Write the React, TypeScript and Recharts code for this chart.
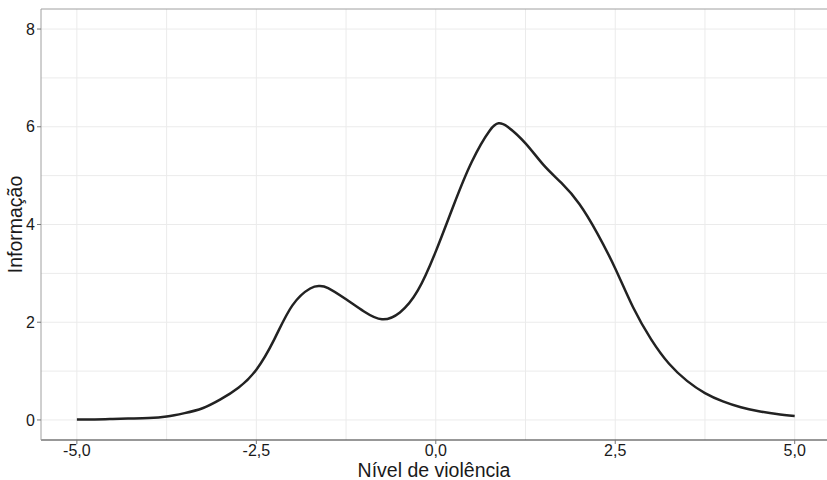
import { LineChart, Line, XAxis, YAxis, CartesianGrid, ReferenceLine } from 'recharts'

const nivel = [
  -5, -4.75, -4.5, -4.25, -4, -3.75, -3.5, -3.25, -3, -2.75, -2.5, -2.25, -2, -1.75,
  -1.625, -1.5, -1.25, -1, -0.75, -0.5, -0.25, 0, 0.25, 0.5, 0.75, 0.875, 1, 1.25,
  1.5, 1.75, 2, 2.25, 2.5, 2.75, 3, 3.25, 3.5, 3.75, 4, 4.25, 4.5, 4.75, 5,
]
const informacao = [
  0.01, 0.01, 0.02, 0.03, 0.04, 0.07, 0.14, 0.24, 0.42, 0.66, 1.03, 1.65, 2.34, 2.69,
  2.74, 2.7, 2.47, 2.22, 2.06, 2.2, 2.65, 3.45, 4.4, 5.28, 5.92, 6.07, 6.0, 5.66,
  5.22, 4.85, 4.42, 3.82, 3.1, 2.3, 1.65, 1.15, 0.8, 0.55, 0.38, 0.26, 0.18, 0.12, 0.08,
]

const xTicks = [-5, -2.5, 0, 2.5, 5]
const yTicks = [0, 2, 4, 6, 8]
const xGrid = [-5, -3.75, -2.5, -1.25, 0, 1.25, 2.5, 3.75, 5]
const yGrid = [0, 1, 2, 3, 4, 5, 6, 7, 8]

const data = nivel.map((x, i) => ({ x, y: informacao[i] }))

const fmt = (v: number) => v.toFixed(1).replace('.', ',')

export default function App() {
  return (
    <div style={{ position: 'absolute', left: 0, top: 0, fontFamily: '"Liberation Sans", Arial, sans-serif' }}>
      <LineChart width={827} height={480} data={data} margin={{ top: 9, right: 0, bottom: 0, left: 0 }}>
        <CartesianGrid
          stroke="#ebebeb"
          horizontalValues={yGrid}
          verticalValues={xGrid}
        />
        <XAxis
          dataKey="x"
          type="number"
          domain={[-5.5, 5.45]}
          ticks={xTicks}
          tickFormatter={fmt}
          height={40}
          tickSize={4}
          tickMargin={1}
          axisLine={{ stroke: '#333', strokeWidth: 1.2 }}
          tickLine={{ stroke: '#777' }}
          tick={{ fill: '#1a1a1a', fontSize: 16 }}
          label={{ value: 'Nível de violência', position: 'insideBottom', offset: 3, fill: '#1a1a1a', fontSize: 19.5 }}
        />
        <YAxis
          type="number"
          domain={[-0.41, 8.41]}
          ticks={yTicks}
          width={41}
          tickSize={4}
          tickMargin={2}
          axisLine={{ stroke: '#a0a0a0' }}
          tickLine={{ stroke: '#777' }}
          tick={{ fill: '#1a1a1a', fontSize: 16 }}
          label={{ value: 'Informação', angle: -90, position: 'insideLeft', offset: 15, fill: '#1a1a1a', fontSize: 19.5, style: { textAnchor: 'middle' } }}
        />
        <ReferenceLine y={8.41} stroke="#a0a0a0" />
        <Line
          type="natural"
          dataKey="y"
          stroke="#222"
          strokeWidth={2.5}
          dot={false}
          isAnimationActive={false}
        />
      </LineChart>
    </div>
  )
}
